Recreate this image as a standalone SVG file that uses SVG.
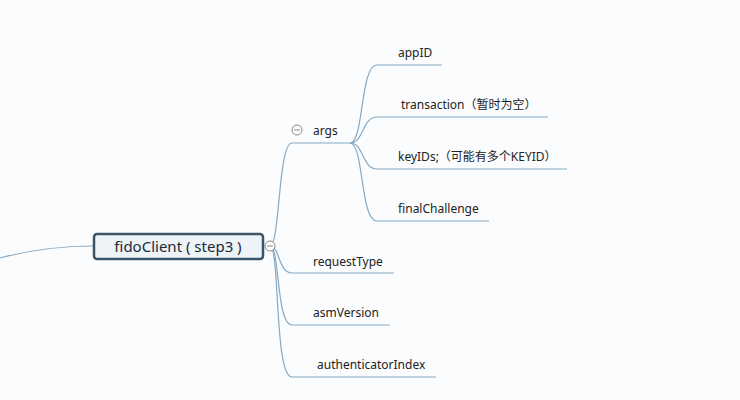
<svg xmlns="http://www.w3.org/2000/svg" width="740" height="400" viewBox="0 0 740 400">
<style>
.c{fill:none;stroke:#86a9c4;stroke-width:1.2}
.t{font-family:"Noto Sans","Noto Sans CJK SC",sans-serif;font-size:12px;fill:#222}
.m{fill:#fff;stroke:#888;stroke-width:1}
</style>
<rect width="740" height="400" fill="#fbfcfd"/>
<g id="connectors">
<path class="c" d="M0,258 C30,250 60,246 93,246"/>
<path class="c" d="M270,246 C280,246 278,143 292,143 L350,143"/>
<path class="c" d="M270,246 C280,246 278,273 292,273 L394,273"/>
<path class="c" d="M270,246 C280,246 276,325 292,325 L390,325"/>
<path class="c" d="M270,246 C280,246 274,377 292,377 L436,377"/>
<path class="c" d="M350,143 C364,143 360,65 377,65 L442,65"/>
<path class="c" d="M350,143 C364,143 362,117 377,117 L548,117"/>
<path class="c" d="M350,143 C364,143 362,169 377,169 L567,169"/>
<path class="c" d="M350,143 C364,143 360,221 377,221 L489,221"/>
</g>
<g id="fidoClient">
<rect x="94" y="234" width="169" height="25" rx="3" fill="#eef3f7" stroke="#3a5468" stroke-width="2.5"/>
<text x="178" y="252" text-anchor="middle" font-family="'Noto Sans','Noto Sans CJK SC',sans-serif" font-size="15" fill="#1a2a3a">fidoClient ( step3 )</text>
<circle class="m" cx="270" cy="246" r="5"/>
<line x1="267" y1="246" x2="273" y2="246" stroke="#888"/>
</g>
<g id="args">
<text class="t" x="313" y="135">args</text>
<circle class="m" cx="297" cy="130" r="5"/>
<line x1="294" y1="130" x2="300" y2="130" stroke="#888"/>
</g>
<g id="appID"><text class="t" x="398" y="57">appID</text></g>
<g id="transaction"><text class="t" x="401" y="109">transaction（暂时为空）</text></g>
<g id="keyIDs"><text class="t" x="398" y="161">keyIDs;（可能有多个KEYID）</text></g>
<g id="finalChallenge"><text class="t" x="398" y="213">finalChallenge</text></g>
<g id="requestType"><text class="t" x="313" y="266">requestType</text></g>
<g id="asmVersion"><text class="t" x="313" y="317">asmVersion</text></g>
<g id="authenticatorIndex"><text class="t" x="317" y="369">authenticatorIndex</text></g>
</svg>
